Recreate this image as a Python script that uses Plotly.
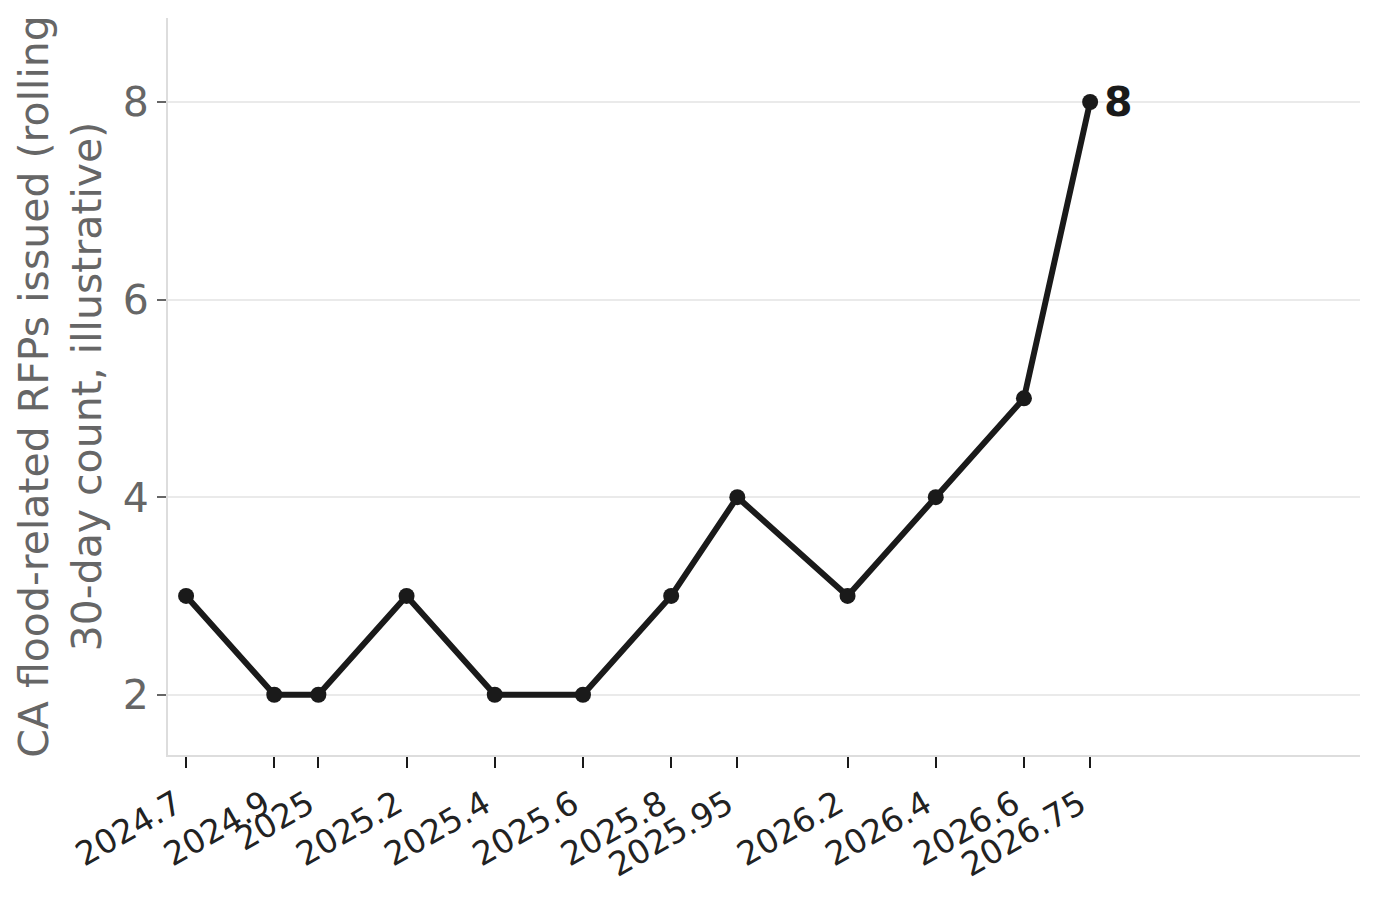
import plotly.graph_objects as go

# illustrative rolling 30-day counts
x_vals = [2024.7, 2024.9, 2025.0, 2025.2, 2025.4, 2025.6, 2025.8, 2025.95,
          2026.2, 2026.4, 2026.6, 2026.75]
rfp_counts = [3, 2, 2, 3, 2, 2, 3, 4, 3, 4, 5, 8]
x_labels = ["2024.7", "2024.9", "2025", "2025.2", "2025.4", "2025.6", "2025.8",
            "2025.95", "2026.2", "2026.4", "2026.6", "2026.75"]
y_ticks = [2, 4, 6, 8]

ink = "#1a1a1a"
font = "DejaVu Sans"

fig = go.Figure()
fig.add_trace(go.Scatter(
    x=x_vals, y=rfp_counts,
    mode="lines+markers",
    line=dict(color=ink, width=6),
    marker=dict(color=ink, size=16),
    showlegend=False,
    hoverinfo="x+y",
))

# label the last point
fig.add_annotation(
    x=x_vals[-1], y=rfp_counts[-1],
    text="<b>%d</b>" % rfp_counts[-1],
    showarrow=False, xanchor="left", yanchor="middle",
    xshift=12, font=dict(family=font, size=41, color=ink),
)

fig.update_xaxes(
    range=[2024.659, 2027.362],
    tickmode="array", tickvals=x_vals, ticktext=x_labels,
    tickangle=-30,
    tickfont=dict(family=font, size=33, color="#222222"),
    ticklabelshift=-10, ticklabelstandoff=4,
    ticks="outside", ticklen=11, tickwidth=2, tickcolor=ink,
    showline=True, linecolor="#dddddd", linewidth=2,
    showgrid=False, zeroline=False,
)
fig.update_yaxes(
    range=[1.39, 8.85],
    tickmode="array", tickvals=y_ticks,
    tickfont=dict(family=font, size=41, color="#666666"),
    ticks="outside", ticklen=9, tickwidth=2, tickcolor="#666666",
    showline=True, linecolor="#dddddd", linewidth=2,
    showgrid=True, gridcolor="#eaeaea", gridwidth=2,
    zeroline=False,
    title=dict(text="CA flood-related RFPs issued (rolling<br>30-day count, illustrative)",
               font=dict(family=font, size=41, color="#666666"), standoff=8),
)

fig.update_layout(
    width=1380, height=899,
    margin=dict(l=160, r=28, t=10, b=152),
    plot_bgcolor="white", paper_bgcolor="white",
    font=dict(family=font),
)

fig.write_html("out.html")
